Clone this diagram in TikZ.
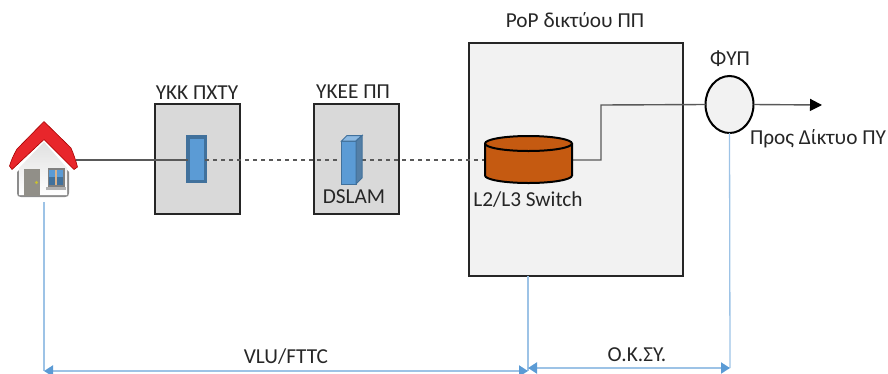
\documentclass[tikz,border=0pt]{standalone}
\usepackage{fontspec}
\setmainfont{Carlito}
\usetikzlibrary{arrows.meta,shapes.geometric}
\definecolor{boxgray}{HTML}{D9D9D9}
\definecolor{popgray}{HTML}{F2F2F2}
\definecolor{devblue}{HTML}{5B9BD5}
\definecolor{devedge}{HTML}{41719C}
\definecolor{dimblue}{HTML}{9DC3E6}
\definecolor{switchor}{HTML}{C55A11}
\definecolor{linkgray}{HTML}{595959}
\definecolor{roofred}{HTML}{E8262B}
\tikzset{
  site/.style={draw=black!85,line width=2pt,fill=boxgray,minimum width=85pt,minimum height=110pt,inner sep=0pt,outer sep=0pt},
  label/.style={inner sep=0pt,font=\fontsize{21.3pt}{24pt}\selectfont,text=black!85},
  link/.style={draw=linkgray,line width=1.4pt},
  fibre/.style={link,dash pattern=on 4pt off 4pt},
  drop/.style={draw=dimblue,line width=1.3pt},
  span/.style={draw=dimblue,line width=2pt,{Triangle[length=9pt,width=11pt,color=devblue]}-{Triangle[length=9pt,width=11pt,color=devblue]}},
}
\begin{document}
\begin{tikzpicture}[x=1pt,y=-1pt]
\useasboundingbox (0,0) rectangle (888,373);
% site boxes
\node[site,anchor=north west] (ykk) at (155,104) {};
\node[site,anchor=north west] (ykee) at (314,104) {};
\node[site,fill=popgray,anchor=north west,minimum width=214pt,minimum height=233pt] (pop) at (469,43) {};
% anchors
\coordinate (houseR) at (76,160);
\coordinate (houseB) at (44,202);
\coordinate (popB) at (528,276);
\coordinate (out) at (822,105);
\coordinate (spanL) at (44,371);
\coordinate (spanM) at (528,371);
\coordinate (spanM2) at (528,368);
\coordinate (spanR) at (730,368);
% devices
\node[draw=devedge,line width=3.5pt,fill=devblue,minimum width=17.5pt,minimum height=44.5pt,inner sep=0pt,outer sep=0pt] (pxty) at (196.5,159) {};
\node[inner sep=0pt,minimum width=21pt,minimum height=49pt] (dslam) at (351.5,159.5) {};
\node[inner sep=0pt,minimum width=87pt,minimum height=47pt] (switch) at (528.5,159.5) {};
\node[draw=black,line width=2pt,fill=popgray,ellipse,minimum width=48pt,minimum height=57pt,inner sep=0pt,outer sep=0pt] (fyp) at (729.5,104.5) {};
% links
\draw[link] (houseR) -- (pxty.west |- houseR);
\draw[fibre] (pxty.east |- houseR) -- (dslam.west |- houseR);
\draw[fibre] (dslam.east |- houseR) -- (switch.west |- houseR);
\draw[link] (switch.east |- houseR) -- (601,160) -- (601,105) -- (fyp.west);
\draw[link,-{Triangle[length=12pt,width=12pt,color=black]}] (fyp.east) -- (out);
% DSLAM cuboid
\filldraw[draw=devedge,line width=1pt,fill=devblue] (341.5,141) rectangle (356,184);
\filldraw[draw=devedge,line width=1pt,fill=devblue!70!white] (341.5,141) -- (347,135.5) -- (362,135.5) -- (356,141) -- cycle;
\filldraw[draw=devedge,line width=1pt,fill=devedge!90!white] (356,141) -- (362,135.5) -- (362,178) -- (356,184) -- cycle;
% Switch cylinder
\filldraw[draw=black,line width=2pt,fill=switchor] (485,143.5) -- (485,175.5) arc[start angle=180,end angle=360,x radius=43.5pt,y radius=7.5pt] -- (572,143.5) arc[start angle=0,end angle=180,x radius=43.5pt,y radius=7.5pt] -- cycle;
\draw[black,line width=2pt] (485,143.5) arc[start angle=180,end angle=360,x radius=43.5pt,y radius=7.5pt];
% house
\fill[black!45] (17,172) -- (44,146) -- (69,172) -- (69,193) .. controls (69,196) and (68,197) .. (65,197) -- (21,197) .. controls (18,197) and (17,196) .. (17,193) -- cycle;
\shade[top color=black!12,bottom color=white] (19,168) -- (44,142) -- (67,168) -- (67,195) -- (19,195) -- cycle;
\fill[black!50!yellow!10!gray] (24,169) rectangle (40,196);
\fill[yellow!75!black] (36.5,182.5) circle (1.6pt);
\fill[black!50] (47.5,168) rectangle (64.5,186.5);
\fill[devedge] (49,169.5) rectangle (63,185);
\fill[devblue] (49,169.5) rectangle (63,177);
\fill[brown!60!white] (55,169.5) rectangle (57,185);
\fill[black!30] (46,187) rectangle (66,190);
\fill[roofred,draw=red!65!black,line width=.6pt,line join=round] (44,121.5) -- (71,148) .. controls (74,155) and (76,161) .. (77.5,167) -- (74,169.5) -- (44,139.5) -- (12,169.5) -- (9.5,166) .. controls (11,161) and (13,156) .. (17,149) -- cycle;
% labels
\node[label] (t1) at (197,93) {ΥΚΚ ΠΧΤΥ};
\node[label] (t2) at (353,92) {ΥΚΕΕ ΠΠ};
\node[label] (t3) at (575,20) {PoP δικτύου ΠΠ};
\node[label] (t4) at (354,197) {DSLAM};
\node[label] (t5) at (528,200) {L2/L3 Switch};
\node[label] (t6) at (730,59) {ΦΥΠ};
\node[label] (t7) at (818,139) {Προς Δίκτυο ΠΥ};
\node[label] (t8) at (286,357) {VLU/FTTC};
\node[label] (t9) at (637,355) {Ο.Κ.ΣΥ.};
% dimension lines
\draw[drop] (houseB) -- (spanL);
\draw[drop] (popB) -- (spanM);
\draw[drop] (fyp.south) -- (spanR);
\draw[span] (spanL) -- (spanM);
\draw[span] (spanM2) -- (spanR);
\end{tikzpicture}
\end{document}
